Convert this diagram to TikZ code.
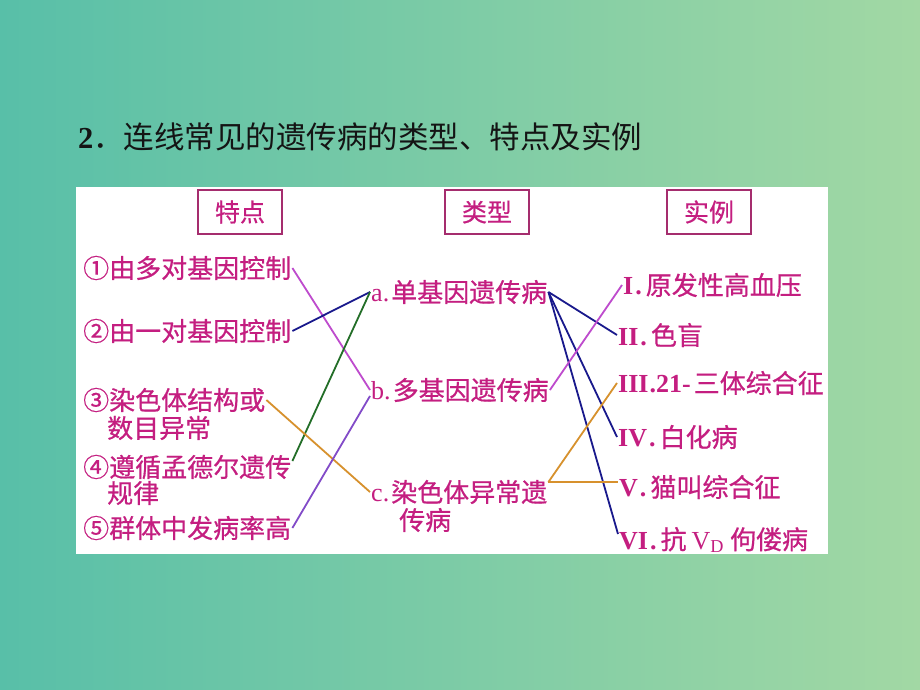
\documentclass[tikz,border=0pt]{standalone}
\usepackage{fontspec}
\setmainfont{Liberation Serif}
\newfontfamily\cjk{Noto Sans CJK SC}
\newfontfamily\cjkb[FakeBold=0.6]{Noto Sans CJK SC}
\definecolor{bgL}{RGB}{88,191,168}
\definecolor{bgR}{RGB}{162,216,164}
\definecolor{txt}{RGB}{196,30,128}
\definecolor{ttl}{RGB}{20,20,20}
\definecolor{boxc}{RGB}{165,45,110}
\definecolor{lmag}{RGB}{190,75,205}
\definecolor{lpur}{RGB}{130,75,200}
\definecolor{lblue}{RGB}{25,25,140}
\definecolor{lgreen}{RGB}{35,110,40}
\definecolor{lorange}{RGB}{215,145,45}
\newcommand\rn[1]{{\rmfamily\bfseries #1\kern2pt.\kern4pt}}
\begin{document}
\begin{tikzpicture}[x=1pt,y=-1pt,
  item/.style={anchor=west,inner sep=1pt,text=txt,font=\cjkb\fontsize{26}{28}\selectfont},
  head/.style={draw=boxc,line width=1.5pt,minimum width=84pt,minimum height=44pt,inner sep=0pt,text=txt,font=\cjkb\fontsize{25}{27}\selectfont},
  link/.style={line width=1.8pt}]
\useasboundingbox (0,0) rectangle (920,690);
\shade[left color=bgL,right color=bgR] (0,0) rectangle (920,690);
\fill[white] (76,187) rectangle (828,554);
% title
\node[anchor=west,inner sep=0pt,text=ttl,font=\fontsize{30.5}{32}\selectfont] (title) at (78,137) {\textbf{2}{\cjk ．连线常见的遗传病的类型、特点及实例}};
% headers
\node[head] (h1) at (240,212) {特点};
\node[head] (h2) at (487,212) {类型};
\node[head] (h3) at (709,212) {实例};
% left column
\node[item] (n1) at (82,268) {①由多对基因控制};
\node[item] (n2) at (82,331) {②由一对基因控制};
\node[item] (n3) at (82,400) {③染色体结构或};
\node[item] (n3b) at (106,428) {数目异常};
\node[item] (n4) at (82,467) {④遵循孟德尔遗传};
\node[item] (n4b) at (106,493) {规律};
\node[item] (n5) at (82,528) {⑤群体中发病率高};
% middle column
\node[item] (ta) at (370,292) {{\rmfamily a.}\kern2pt 单基因遗传病};
\node[item] (tb) at (370,390) {{\rmfamily b.}\kern2pt 多基因遗传病};
\node[item] (tc) at (370,492) {{\rmfamily c.}\kern2pt 染色体异常遗};
\node[item] (tcb) at (398,520) {传病};
% right column
\node[item] (r1) at (622,285) {\rn{I}原发性高血压};
\node[item] (r2) at (617,335) {\rn{II}色盲};
\node[item] (r3) at (617,383) {{\rmfamily\bfseries III\kern1pt.21-}\kern3pt 三体综合征};
\node[item] (r4) at (617,437) {\rn{IV}白化病};
\node[item] (r5) at (618,487) {\rn{V}猫叫综合征};
\node[item] (r6) at (618,540) {\rn{VI}抗\kern5pt{\rmfamily V\textsubscript{D}}\kern6pt 佝偻病};
% connectors left-middle
\draw[link,lmag] (n1.east) -- (tb.west);
\draw[link,lblue] (n2.east) -- (ta.west);
\draw[link,lgreen] ([yshift=6pt]n4.east) -- (ta.west);
\draw[link,lorange] (n3.east) -- (tc.west);
\draw[link,lpur] (n5.east) -- ([yshift=-6pt]tb.west);
% connectors middle-right
\draw[link,lblue] (ta.east) -- (r2.west);
\draw[link,lblue] (ta.east) -- (r4.west);
\draw[link,lblue] (ta.east) -- ([yshift=6pt]r6.west);
\draw[link,lmag] (tb.east) -- (r1.west);
\draw[link,lorange] ([yshift=10pt]tc.east) -- (r3.west);
\draw[link,lorange] ([yshift=10pt]tc.east) -- ([yshift=5pt]r5.west);
\end{tikzpicture}
\end{document}
